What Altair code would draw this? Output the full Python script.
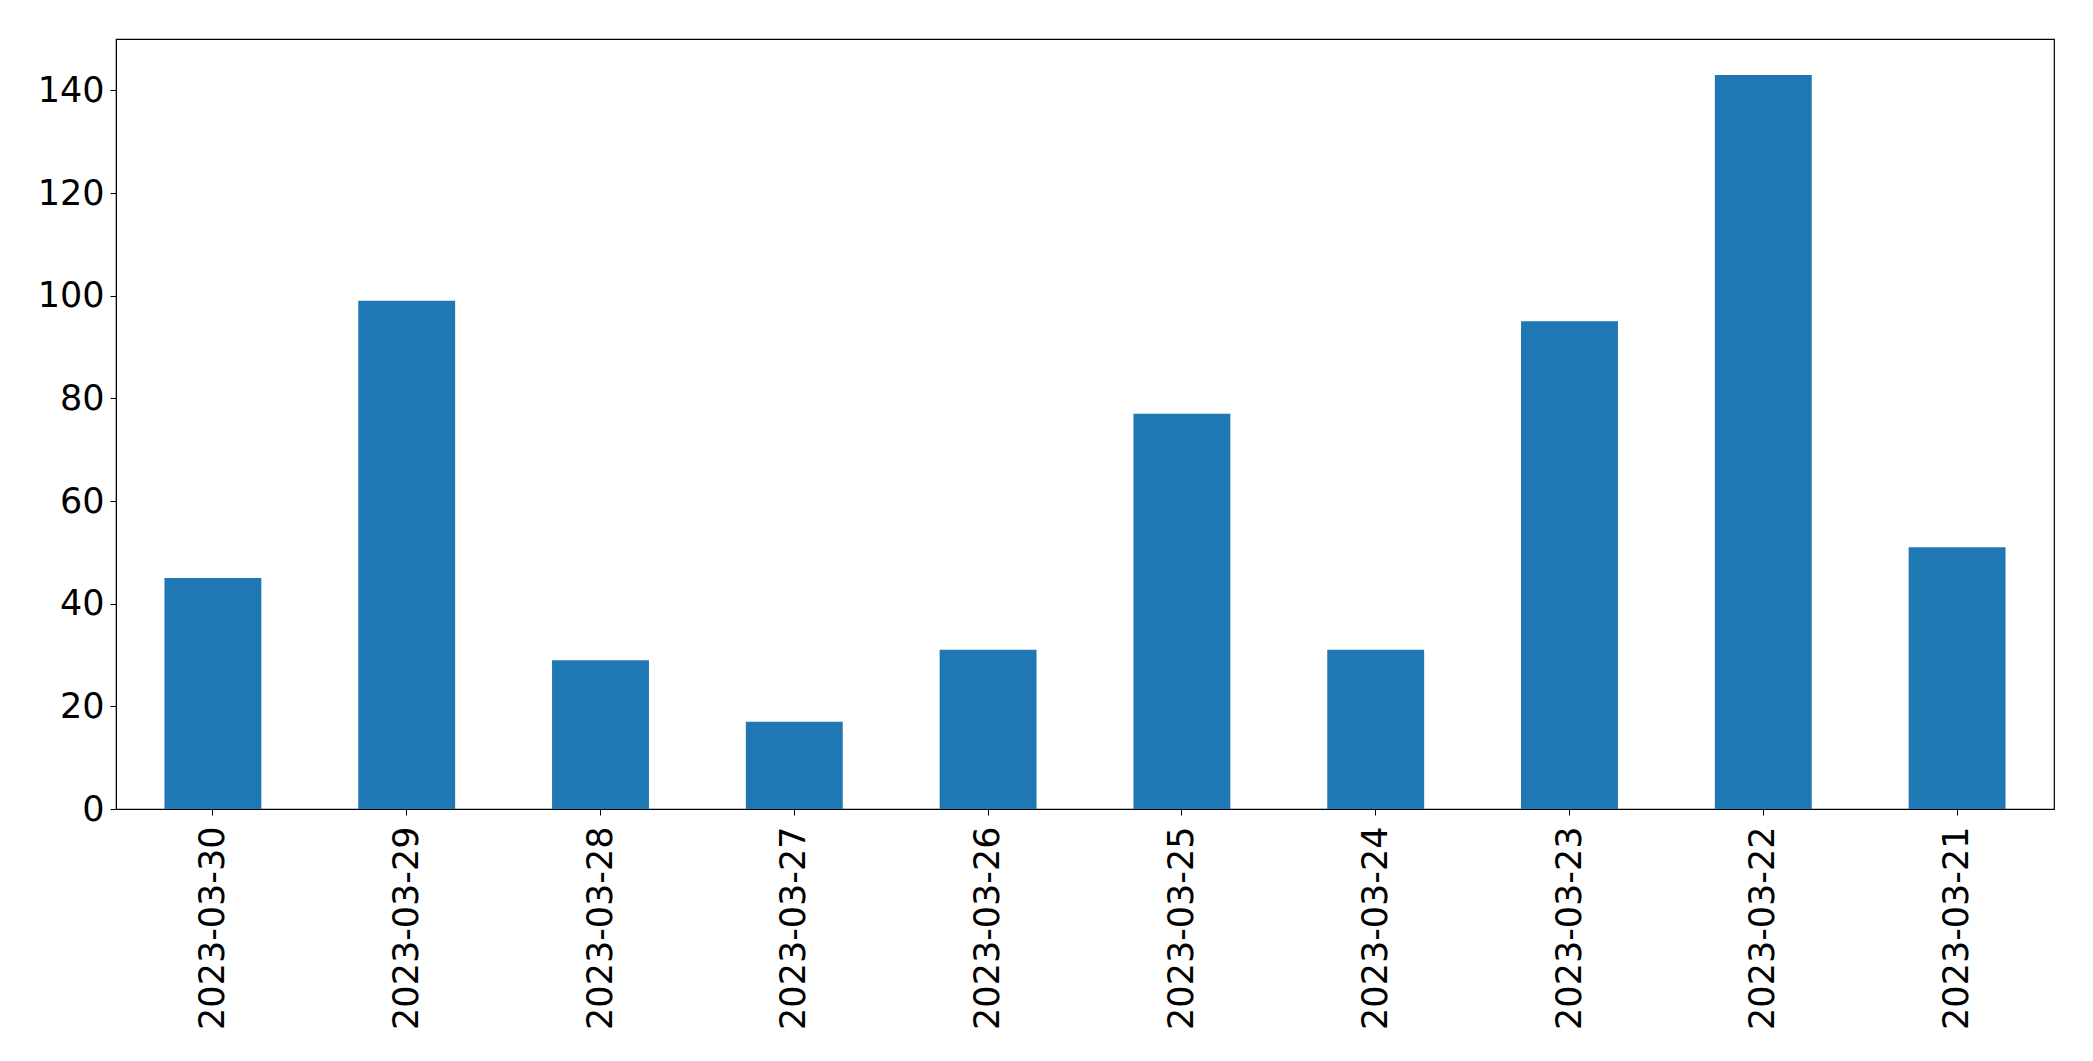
import altair as alt
import pandas as pd

dates = ["2023-03-30", "2023-03-29", "2023-03-28", "2023-03-27", "2023-03-26",
         "2023-03-25", "2023-03-24", "2023-03-23", "2023-03-22", "2023-03-21"]
counts = [45, 99, 29, 17, 31, 77, 31, 95, 143, 51]
y_ticks = [0, 20, 40, 60, 80, 100, 120, 140]

df = pd.DataFrame({"date": dates, "count": counts})

chart = alt.Chart(df).mark_bar(color="#1f77b4").encode(
    x=alt.X("date:N", sort=dates, title=None,
            scale=alt.Scale(paddingInner=0.5, paddingOuter=0.25),
            axis=alt.Axis(labelAngle=-90, labelAlign="right", labelBaseline="middle",
                          labelFontSize=35, labelFont="DejaVu Sans", labelColor="black",
                          labelLimit=0, labelOverlap=False,
                          tickSize=6, tickColor="black", domainColor="black",
                          labelPadding=11, grid=False)),
    y=alt.Y("count:Q", title=None,
            scale=alt.Scale(domain=[0, 150], nice=False),
            axis=alt.Axis(values=y_ticks, labelFontSize=35, labelFont="DejaVu Sans",
                          labelColor="black", tickSize=6, tickColor="black",
                          domainColor="black", labelPadding=6, grid=False)),
).properties(
    width=1938, height=770,
    autosize=alt.AutoSizeParams(type="none"),
    padding={"left": 108, "top": 31, "right": 31, "bottom": 240},
).configure_view(stroke="black", strokeWidth=1.2)

chart.save("out.html", embed_options={"renderer": "svg", "actions": False})
